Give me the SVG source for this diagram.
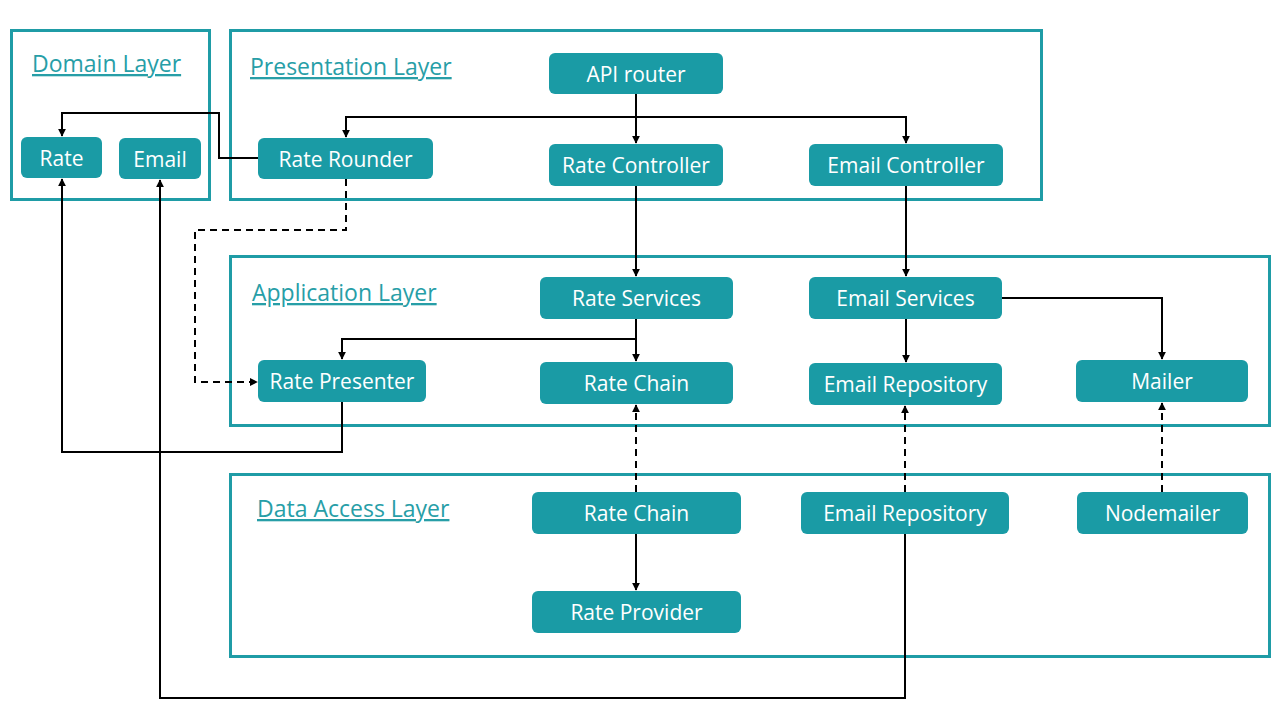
<svg xmlns="http://www.w3.org/2000/svg" width="1280" height="720" viewBox="0 0 1280 720">
<defs>
<marker id="ah" viewBox="0 0 10 10" refX="9" refY="5" markerWidth="8" markerHeight="8" markerUnits="userSpaceOnUse" orient="auto">
<path d="M0,0 L10,5 L0,10 z" fill="#000"/>
</marker>
<style>
.layer{fill:none;stroke:#1f9ca6;stroke-width:3}
.title{font-family:"Open Sans","Noto Sans",sans-serif;font-size:23px;fill:#279ea7;text-decoration:underline}
.node rect{fill:#1a9ba5}
.node text{font-family:"Open Sans","Noto Sans",sans-serif;font-size:21px;fill:#fff;text-anchor:middle;dominant-baseline:central}
.c{fill:none;stroke:#000;stroke-width:2;marker-end:url(#ah)}
.d{stroke-dasharray:7,5}
</style>
</defs>
<rect width="1280" height="720" fill="#fff"/>
<g id="layers">
<rect class="layer" x="11.5" y="30.5" width="198" height="169"/>
<rect class="layer" x="230.5" y="30.5" width="811" height="169"/>
<rect class="layer" x="230.5" y="256.5" width="1039" height="169"/>
<rect class="layer" x="230.5" y="474.5" width="1039" height="182"/>
<text class="title" x="32" y="72">Domain Layer</text>
<text class="title" x="250" y="75">Presentation Layer</text>
<text class="title" x="252" y="301">Application Layer</text>
<text class="title" x="257" y="517">Data Access Layer</text>
</g>
<g id="connectors">
<path class="c" d="M636,94 V143"/>
<path class="c" d="M636,117 H346 V137"/>
<path class="c" d="M636,117 H906 V143"/>
<path class="c" d="M258,158 H219 V113 H62 V136"/>
<path class="c d" d="M346,179 V230 H195 V382 H257"/>
<path class="c" d="M636,186 V276"/>
<path class="c" d="M906,186 V276"/>
<path class="c" d="M636,319 V361"/>
<path class="c" d="M636,339 H342 V359"/>
<path class="c" d="M906,319 V362"/>
<path class="c" d="M1002,298 H1162 V359"/>
<path class="c" d="M342,402 V452 H62 V179"/>
<path class="c" d="M905,534 V698 H160 V180"/>
<path class="c d" d="M636,492 V405"/>
<path class="c d" d="M905,492 V406"/>
<path class="c d" d="M1162,492 V403"/>
<path class="c" d="M636,534 V590"/>
</g>
<g id="n-rate" class="node"><rect x="21" y="137" width="81" height="41" rx="6"/><text x="61.5" y="157.5">Rate</text></g>
<g id="n-email" class="node"><rect x="119" y="138" width="82" height="41" rx="6"/><text x="160" y="158.5">Email</text></g>
<g id="n-rate-rounder" class="node"><rect x="258" y="138" width="175" height="41" rx="6"/><text x="345.5" y="158.5">Rate Rounder</text></g>
<g id="n-api-router" class="node"><rect x="549" y="53" width="174" height="41" rx="6"/><text x="636" y="73.5">API router</text></g>
<g id="n-rate-controller" class="node"><rect x="549" y="144" width="174" height="42" rx="6"/><text x="636" y="165">Rate Controller</text></g>
<g id="n-email-controller" class="node"><rect x="809" y="144" width="194" height="42" rx="6"/><text x="906" y="165">Email Controller</text></g>
<g id="n-rate-services" class="node"><rect x="540" y="277" width="193" height="42" rx="6"/><text x="636.5" y="298">Rate Services</text></g>
<g id="n-email-services" class="node"><rect x="809" y="277" width="193" height="42" rx="6"/><text x="905.5" y="298">Email Services</text></g>
<g id="n-rate-presenter" class="node"><rect x="258" y="360" width="168" height="42" rx="6"/><text x="342" y="381">Rate Presenter</text></g>
<g id="n-rate-chain-app" class="node"><rect x="540" y="362" width="193" height="42" rx="6"/><text x="636.5" y="383">Rate Chain</text></g>
<g id="n-email-repo-app" class="node"><rect x="809" y="363" width="193" height="42" rx="6"/><text x="905.5" y="384">Email Repository</text></g>
<g id="n-mailer" class="node"><rect x="1076" y="360" width="172" height="42" rx="6"/><text x="1162" y="381">Mailer</text></g>
<g id="n-rate-chain-data" class="node"><rect x="532" y="492" width="209" height="42" rx="6"/><text x="636.5" y="513">Rate Chain</text></g>
<g id="n-email-repo-data" class="node"><rect x="801" y="492" width="208" height="42" rx="6"/><text x="905" y="513">Email Repository</text></g>
<g id="n-nodemailer" class="node"><rect x="1077" y="492" width="171" height="42" rx="6"/><text x="1162.5" y="513">Nodemailer</text></g>
<g id="n-rate-provider" class="node"><rect x="532" y="591" width="209" height="42" rx="6"/><text x="636.5" y="612">Rate Provider</text></g>
</svg>
